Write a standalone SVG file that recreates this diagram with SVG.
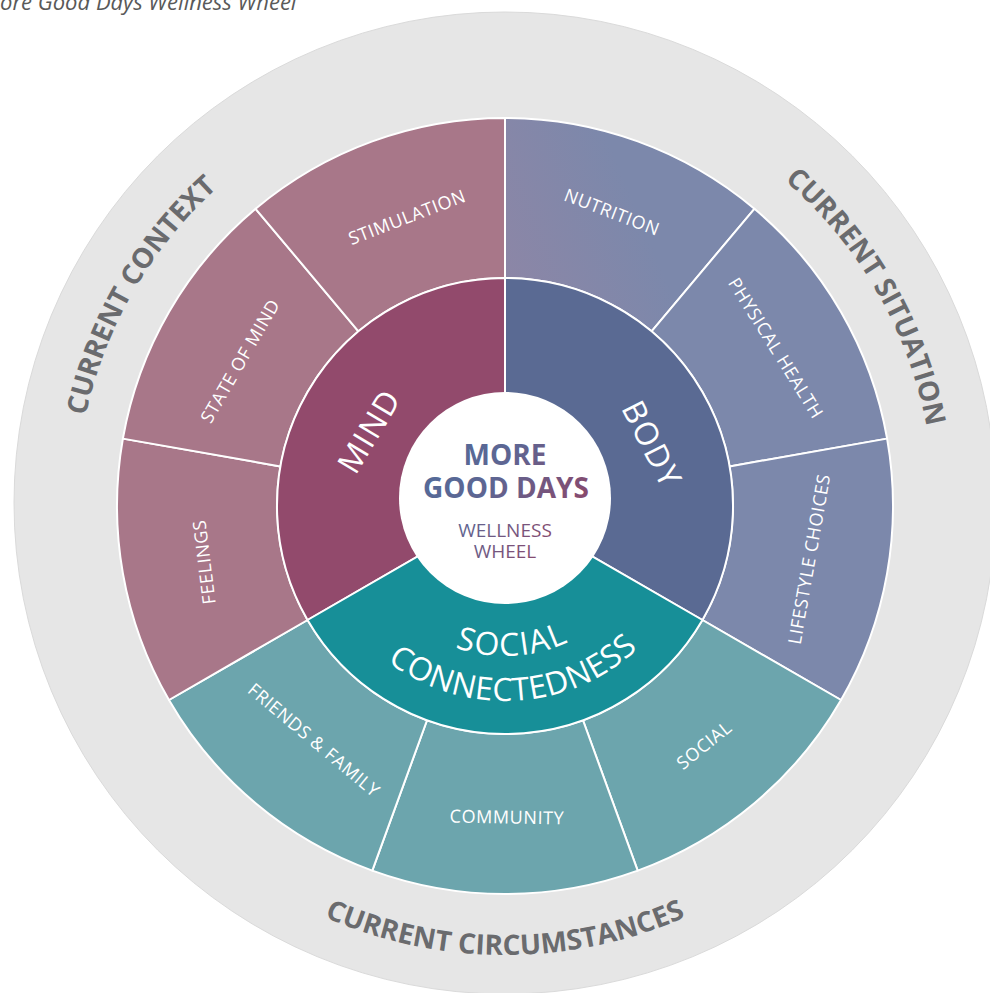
<svg xmlns="http://www.w3.org/2000/svg" width="990" height="993" viewBox="0 0 990 993">
  <defs>
    <style>
      .f{font-family:"Open Sans","Noto Sans","DejaVu Sans",sans-serif}
      .seg{stroke:#ffffff;stroke-width:2;stroke-linejoin:round}
      .mindOut{fill:#A87789}
      .mindIn{fill:#924A6C}
      .bodyOut{fill:#7C88AB}
      .bodyIn{fill:#5A6A93}
      .socOut{fill:#6CA5AD}
      .socIn{fill:#178F98}
      .lbl{font-size:18px;fill:#ffffff;text-anchor:middle;letter-spacing:0.6px}
      .core{font-size:32px;fill:#ffffff;text-anchor:middle;letter-spacing:1.5px}
      .ring{font-size:28px;font-weight:700;fill:#6A6B6E;letter-spacing:0px}
      .hub{fill:url(#hubText);text-anchor:middle}
    </style>
    <linearGradient id="nutriGrad" gradientUnits="userSpaceOnUse" x1="505" y1="300" x2="650" y2="240">
      <stop offset="0" stop-color="#8D86A6"/>
      <stop offset="1" stop-color="#7C88AB"/>
    </linearGradient>
    <linearGradient id="hubText" gradientUnits="userSpaceOnUse" x1="450" y1="450" x2="570" y2="540">
      <stop offset="0" stop-color="#556A98"/>
      <stop offset="0.35" stop-color="#5E6592"/>
      <stop offset="1" stop-color="#8E4568"/>
    </linearGradient>
    <!-- arcs carrying the curved captions -->
    <path id="arcContext" d="M133.48 720.5 A429 429 0 0 1 505 77"/>
    <path id="arcSituation" d="M505 77 A429 429 0 0 1 876.52 720.5"/>
    <path id="arcCircum" d="M116.16 730.5 A449 449 0 0 0 893.84 730.5"/>
    <path id="arcSocial" d="M358.84 539.74 A150 150 0 0 0 653.88 524.28"/>
    <path id="arcConnect" d="M315 549.87 A195 195 0 0 0 698.55 529.76"/>
  </defs>

  <rect width="990" height="993" fill="#ffffff"/>

  <text class="f" x="0" y="10" font-size="22" font-style="italic" fill="#595959">ore Good Days Wellness Wheel</text>

  <!-- outer grey band with its three captions -->
  <g id="context-band">
    <circle cx="505" cy="503" r="491" fill="#E6E6E6" stroke="#DADADA" stroke-width="1"/>
    <text class="f ring"><textPath href="#arcContext" startOffset="50%" text-anchor="middle">CURRENT CONTEXT</textPath></text>
    <text class="f ring"><textPath href="#arcSituation" startOffset="50%" text-anchor="middle">CURRENT SITUATION</textPath></text>
    <text class="f ring"><textPath href="#arcCircum" startOffset="50%" text-anchor="middle">CURRENT CIRCUMSTANCES</textPath></text>
  </g>

  <!-- outer ring: nine 40-degree segments -->
  <g id="nutrition">
    <path class="seg" fill="url(#nutriGrad)" d="M505 118 A388 388 0 0 1 754.4 208.78 L651.56 331.34 A228 228 0 0 0 505 278 Z"/>
    <text class="f lbl" transform="translate(612 212) rotate(21)" y="6.5">NUTRITION</text>
  </g>
  <g id="physical-health">
    <path class="seg bodyOut" d="M754.4 208.78 A388 388 0 0 1 887.1 438.62 L729.54 466.41 A228 228 0 0 0 651.56 331.34 Z"/>
    <text class="f lbl" transform="translate(776 348) rotate(58)" y="6.5">PHYSICAL HEALTH</text>
  </g>
  <g id="lifestyle-choices">
    <path class="seg bodyOut" d="M887.1 438.62 A388 388 0 0 1 841.02 700 L702.45 620 A228 228 0 0 0 729.54 466.41 Z"/>
    <text class="f lbl" transform="translate(809 559) rotate(-80)" y="6.5">LIFESTYLE CHOICES</text>
  </g>
  <g id="social">
    <path class="seg socOut" d="M841.02 700 A388 388 0 0 1 637.7 870.6 L582.98 720.25 A228 228 0 0 0 702.45 620 Z"/>
    <text class="f lbl" transform="translate(704 745) rotate(-39)" y="6.5">SOCIAL</text>
  </g>
  <g id="community">
    <path class="seg socOut" d="M637.7 870.6 A388 388 0 0 1 372.3 870.6 L427.02 720.25 A228 228 0 0 0 582.98 720.25 Z"/>
    <text class="f lbl" transform="translate(507 817) rotate(1)" y="6.5">COMMUNITY</text>
  </g>
  <g id="friends-family">
    <path class="seg socOut" d="M372.3 870.6 A388 388 0 0 1 168.98 700 L307.55 620 A228 228 0 0 0 427.02 720.25 Z"/>
    <text class="f lbl" transform="translate(314 740) rotate(40)" y="6.5">FRIENDS &amp; FAMILY</text>
  </g>
  <g id="feelings">
    <path class="seg mindOut" d="M168.98 700 A388 388 0 0 1 122.9 438.62 L280.46 466.41 A228 228 0 0 0 307.55 620 Z"/>
    <text class="f lbl" transform="translate(204 562) rotate(-97)" y="6.5">FEELINGS</text>
  </g>
  <g id="state-of-mind">
    <path class="seg mindOut" d="M122.9 438.62 A388 388 0 0 1 255.6 208.78 L358.44 331.34 A228 228 0 0 0 280.46 466.41 Z"/>
    <text class="f lbl" transform="translate(240 361) rotate(-60)" y="6.5">STATE OF MIND</text>
  </g>
  <g id="stimulation">
    <path class="seg mindOut" d="M255.6 208.78 A388 388 0 0 1 505 118 L505 278 A228 228 0 0 0 358.44 331.34 Z"/>
    <text class="f lbl" transform="translate(407 217) rotate(-21)" y="6.5">STIMULATION</text>
  </g>

  <!-- inner ring: three pillars -->
  <g id="mind">
    <path class="seg mindIn" d="M505 506 L307.55 620 A228 228 0 0 1 505 278 Z"/>
    <text class="f core" transform="translate(369 431) rotate(-59)" y="11.5">MIND</text>
  </g>
  <g id="body">
    <path class="seg bodyIn" d="M505 506 L505 278 A228 228 0 0 1 702.45 620 Z"/>
    <text class="f core" transform="translate(652 444) rotate(63)" y="11.5">BODY</text>
  </g>
  <g id="social-connectedness">
    <path class="seg socIn" d="M505 506 L702.45 620 A228 228 0 0 1 307.55 620 Z"/>
    <text class="f core"><textPath href="#arcSocial" startOffset="50%" text-anchor="middle">SOCIAL</textPath></text>
    <text class="f core" style="letter-spacing:0.5px"><textPath href="#arcConnect" startOffset="50%" text-anchor="middle">CONNECTEDNESS</textPath></text>
  </g>

  <!-- hub -->
  <g id="hub">
    <circle cx="505" cy="498" r="106" fill="#ffffff"/>
    <text class="f hub" x="505" y="465" font-size="28" font-weight="700">MORE</text>
    <text class="f hub" x="506" y="498" font-size="28" font-weight="700">GOOD DAYS</text>
    <text class="f hub" x="505" y="537" font-size="19">WELLNESS</text>
    <text class="f hub" x="505" y="558" font-size="19">WHEEL</text>
  </g>
</svg>
